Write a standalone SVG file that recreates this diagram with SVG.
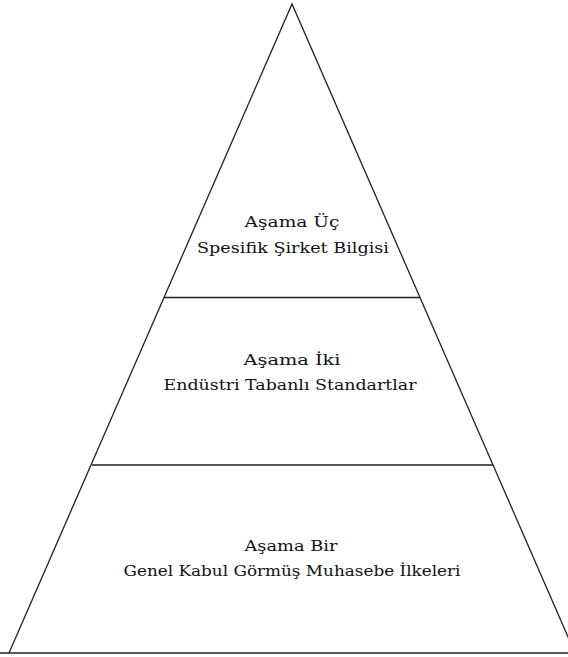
<svg xmlns="http://www.w3.org/2000/svg" width="568" height="657" viewBox="0 0 568 657">
<style>
.ln{stroke:#222;stroke-width:1.3;fill:none}
.t{font-family:"DejaVu Serif","Liberation Serif",serif;font-size:14px;fill:#111;text-anchor:middle}
</style>
<rect width="568" height="657" fill="#fff"/>
<g id="connectors">
<polyline class="ln" points="9,653 292,4 575,653"/>
<line class="ln" x1="0" y1="653" x2="568" y2="653"/>
<line class="ln" x1="164" y1="297.5" x2="420" y2="297.5"/>
<line class="ln" x1="92" y1="465" x2="493" y2="465"/>
</g>
<g id="stage3">
<text class="t" x="292" y="227" textLength="95" lengthAdjust="spacingAndGlyphs">Aşama Üç</text>
<text class="t" x="293" y="253" textLength="192" lengthAdjust="spacingAndGlyphs">Spesifik Şirket Bilgisi</text>
</g>
<g id="stage2">
<text class="t" x="292" y="365" textLength="97" lengthAdjust="spacingAndGlyphs">Aşama İki</text>
<text class="t" x="290" y="390" textLength="253" lengthAdjust="spacingAndGlyphs">Endüstri Tabanlı Standartlar</text>
</g>
<g id="stage1">
<text class="t" x="291" y="551" textLength="93" lengthAdjust="spacingAndGlyphs">Aşama Bir</text>
<text class="t" x="292" y="576" textLength="337" lengthAdjust="spacingAndGlyphs">Genel Kabul Görmüş Muhasebe İlkeleri</text>
</g>
</svg>
